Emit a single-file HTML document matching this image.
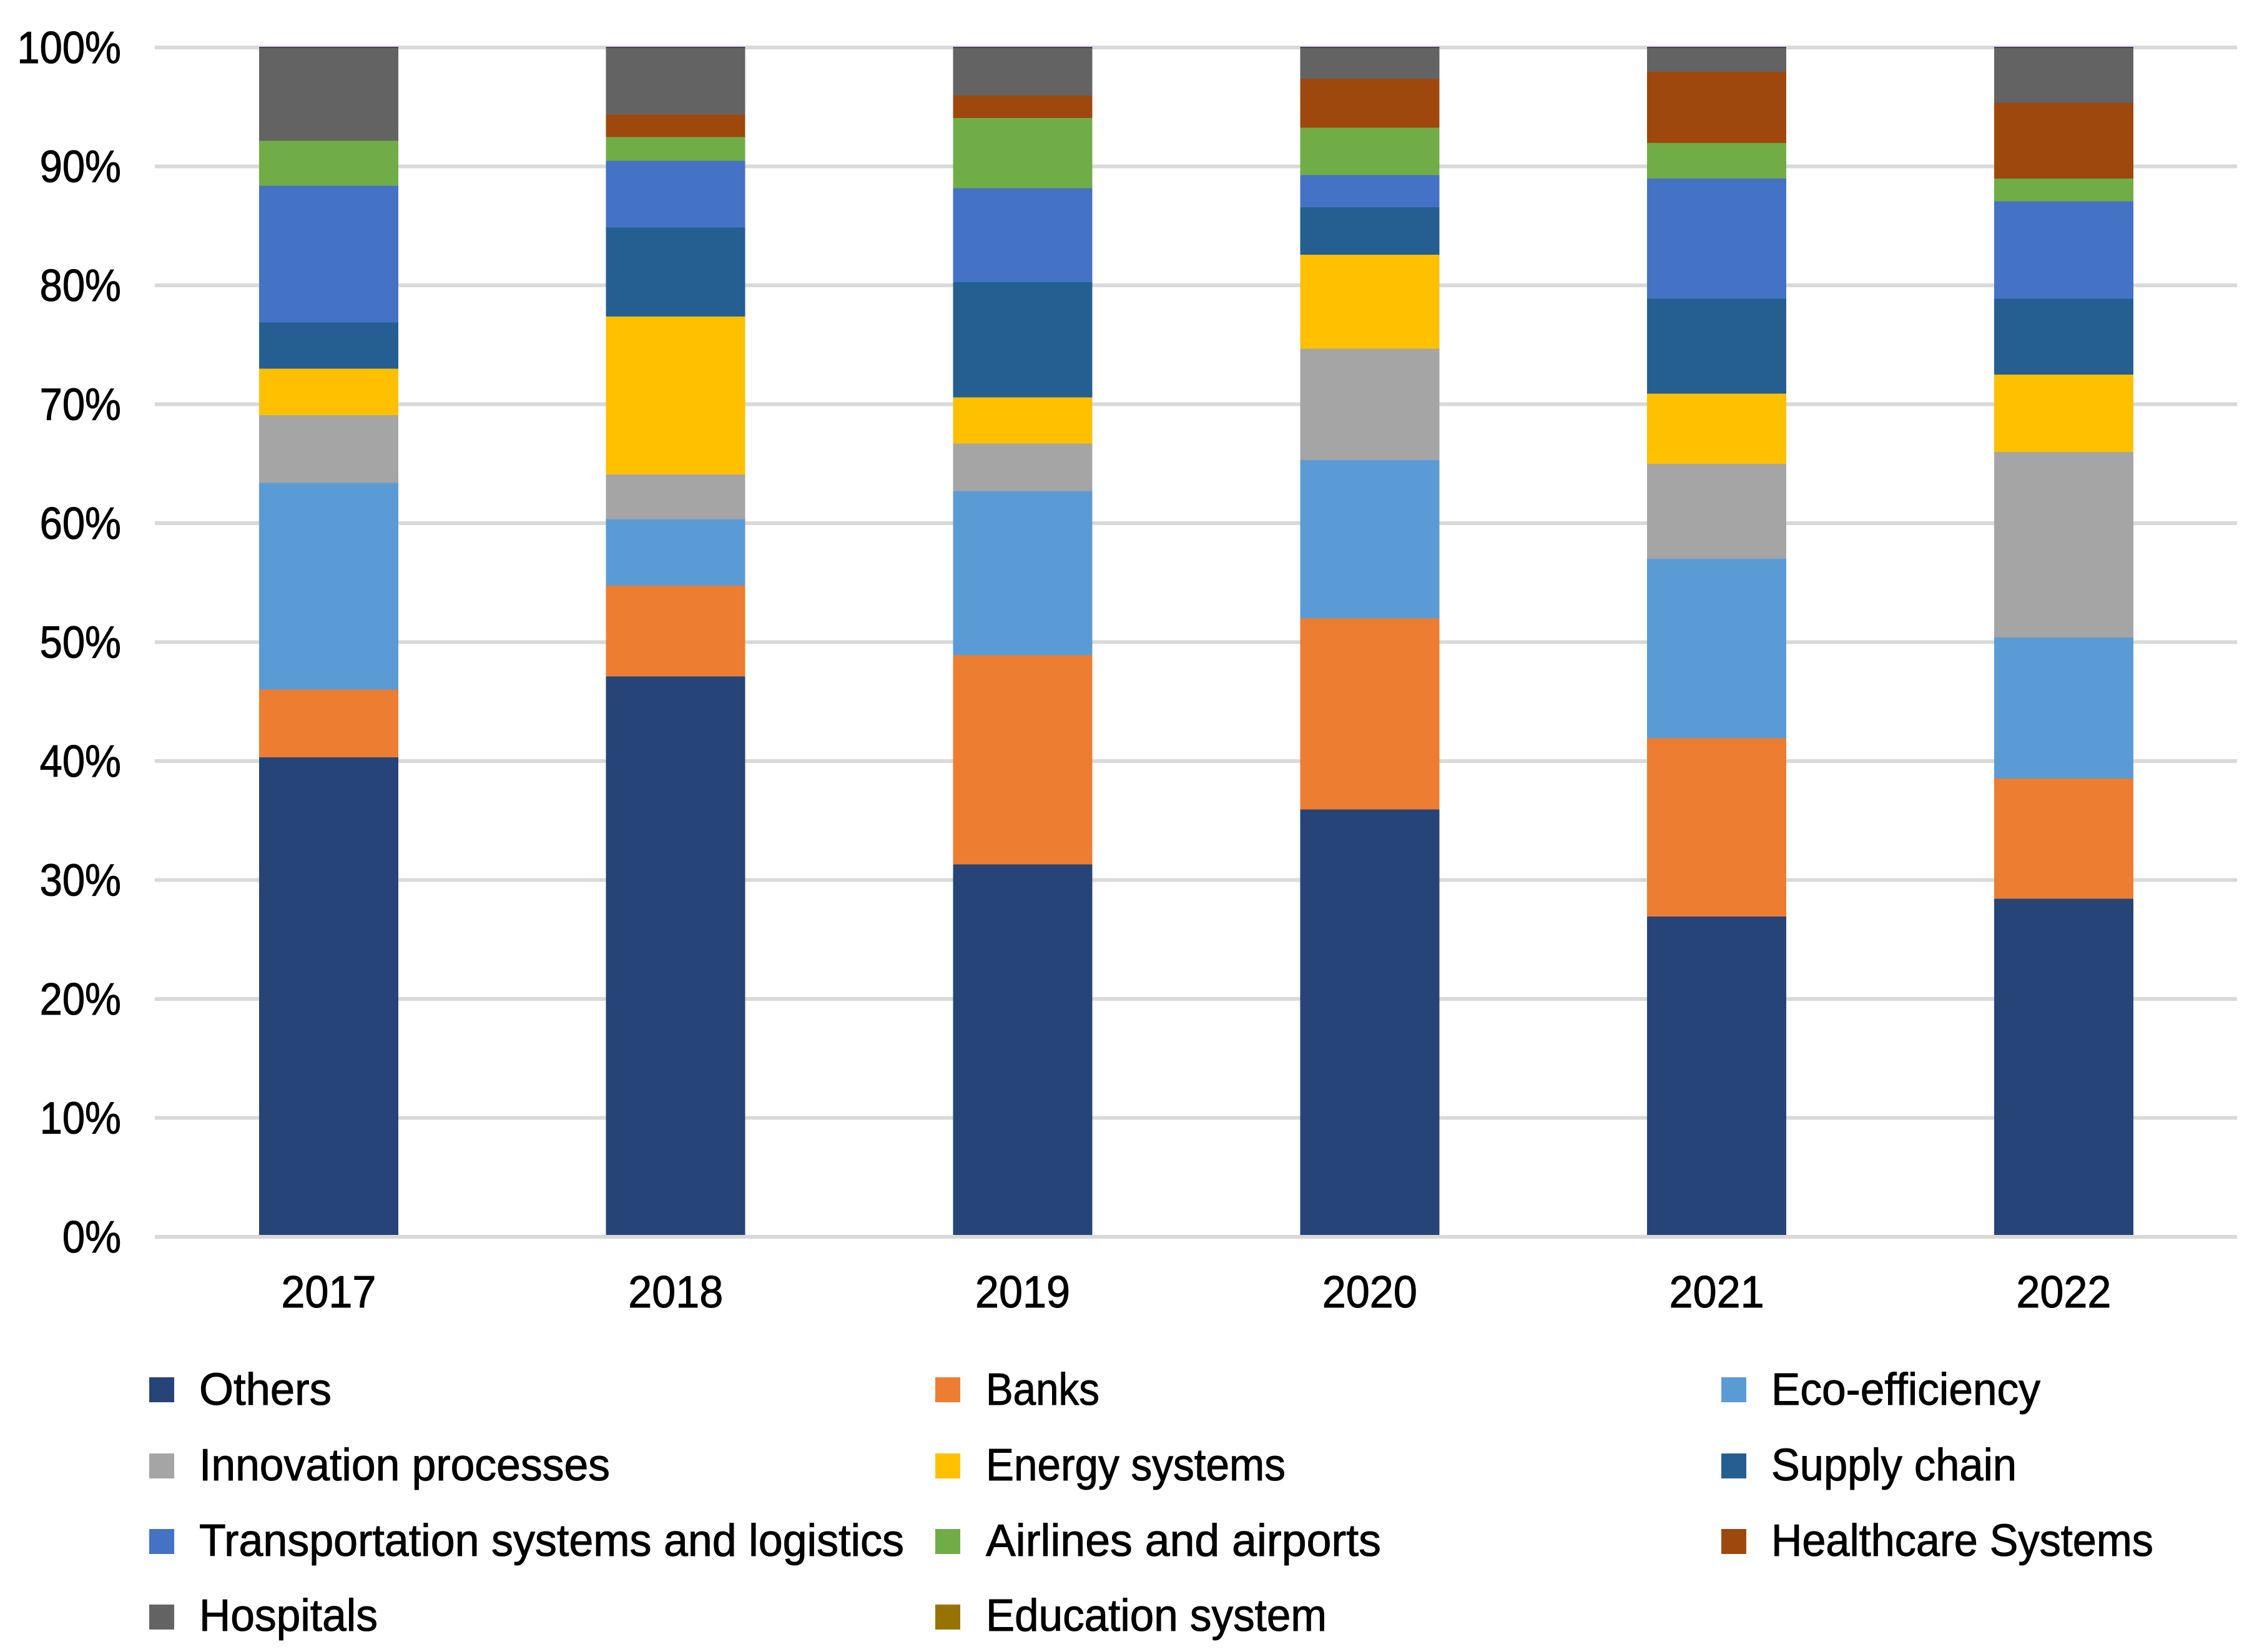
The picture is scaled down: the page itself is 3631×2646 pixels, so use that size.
<!DOCTYPE html>
<html lang="en">
<head>
<meta charset="utf-8">
<title>Stacked share chart 2017-2022</title>
<style>
  html, body { margin: 0; padding: 0; background: #ffffff; }
  svg { display: block; }
  text { font-family: "Liberation Sans", sans-serif; font-size: 72px; fill: #000000; stroke: #000000; stroke-width: 1px; }
</style>
</head>
<body>
<svg id="chart" xmlns="http://www.w3.org/2000/svg" width="3631" height="2646" viewBox="0 0 3631 2646">
  <rect x="0" y="0" width="3631" height="2646" fill="#ffffff"/>
  <g id="grid"></g>
  <g id="yticks"></g>
  <g id="bars"></g>
  <g id="xticks"></g>
  <g>
    <g><rect x="239" y="2206" width="40" height="40" fill="#264478"/><text x="319" y="2250" textLength="212" lengthAdjust="spacingAndGlyphs">Others</text></g>
    <g><rect x="239" y="2328" width="40" height="40" fill="#A5A5A5"/><text x="319" y="2371" textLength="658" lengthAdjust="spacingAndGlyphs">Innovation processes</text></g>
    <g><rect x="239" y="2449" width="40" height="40" fill="#4472C4"/><text x="319" y="2492" textLength="1129" lengthAdjust="spacingAndGlyphs">Transportation systems and logistics</text></g>
    <g><rect x="239" y="2570" width="40" height="40" fill="#636363"/><text x="319" y="2612" textLength="286" lengthAdjust="spacingAndGlyphs">Hospitals</text></g>
    <g><rect x="1498" y="2206" width="40" height="40" fill="#ED7D31"/><text x="1579" y="2250" textLength="182" lengthAdjust="spacingAndGlyphs">Banks</text></g>
    <g><rect x="1498" y="2328" width="40" height="40" fill="#FFC000"/><text x="1579" y="2371" textLength="480" lengthAdjust="spacingAndGlyphs">Energy systems</text></g>
    <g><rect x="1498" y="2449" width="40" height="40" fill="#70AD47"/><text x="1579" y="2492" textLength="633" lengthAdjust="spacingAndGlyphs">Airlines and airports</text></g>
    <g><rect x="1498" y="2570" width="40" height="40" fill="#997300"/><text x="1579" y="2612" textLength="546" lengthAdjust="spacingAndGlyphs">Education system</text></g>
    <g><rect x="2757" y="2206" width="40" height="40" fill="#5B9BD5"/><text x="2837" y="2250" textLength="431" lengthAdjust="spacingAndGlyphs">Eco-efficiency</text></g>
    <g><rect x="2757" y="2328" width="40" height="40" fill="#255E91"/><text x="2837" y="2371" textLength="393" lengthAdjust="spacingAndGlyphs">Supply chain</text></g>
    <g><rect x="2757" y="2449" width="40" height="40" fill="#9E480E"/><text x="2837" y="2492" textLength="612" lengthAdjust="spacingAndGlyphs">Healthcare Systems</text></g>
  </g>
</svg>
<script>
const years = ["2017", "2018", "2019", "2020", "2021", "2022"];
const yTickValues = [0, 10, 20, 30, 40, 50, 60, 70, 80, 90, 100];

const others         = [40.2, 47.0, 31.2, 35.8, 26.8, 28.3];
const banks          = [5.7, 7.65, 17.6, 16.1, 15.0, 10.1];
const ecoEfficiency  = [17.4, 5.6, 13.8, 13.3, 15.1, 11.9];
const innovation     = [5.7, 3.75, 4.0, 9.4, 8.0, 15.6];
const energy         = [3.9, 13.3, 3.9, 7.9, 5.9, 6.5];
const supplyChain    = [3.9, 7.5, 9.7, 4.0, 8.0, 6.4];
const transportation = [11.5, 5.6, 7.9, 2.7, 10.1, 8.2];
const airlines       = [3.8, 2.0, 5.9, 4.0, 3.0, 1.9];
const healthcare     = [0, 1.9, 1.9, 4.1, 6.0, 6.4];
const hospitals      = [7.8, 5.6, 4.0, 2.6, 2.0, 4.6];
const education      = [0, 0, 0, 0, 0, 0];
const unlisted       = [0.1, 0.1, 0.1, 0.1, 0.1, 0.1];

const seriesValues = [others, banks, ecoEfficiency, innovation, energy, supplyChain, transportation, airlines, healthcare, hospitals, education, unlisted];
const seriesNames = ["others", "banks", "eco-efficiency", "innovation-processes", "energy-systems", "supply-chain", "transportation", "airlines-and-airports", "healthcare-systems", "hospitals", "education-system", "unlisted-series"];
const seriesColors = ["#264478", "#ED7D31", "#5B9BD5", "#A5A5A5", "#FFC000", "#255E91", "#4472C4", "#70AD47", "#9E480E", "#636363", "#997300", "#4E3A6B"];

const SVG_NS = "http://www.w3.org/2000/svg";
const plotLeft = 248.5;
const plotRight = 3583.3;
const gridLeft = 248;
const gridRight = 3583;
const gridTop = 76;
const gridBottom = 1981;
const barTop = 75;
const barBottom = 1978;
const barWidth = 223;
const gridThickness = 6;
const textSqueeze = 0.905;
const yearSqueeze = 0.95;

function yGrid(v) { return gridBottom - (gridBottom - gridTop) * v / 100; }
function yBar(v) { return barBottom - (barBottom - barTop) * v / 100; }
function xCenter(i) { return plotLeft + (plotRight - plotLeft) * (i + 0.5) / years.length; }

const gridGroup = document.getElementById("grid");
const yTickGroup = document.getElementById("yticks");
const barGroup = document.getElementById("bars");
const xTickGroup = document.getElementById("xticks");

yTickValues.forEach(function (v) {
  const line = document.createElementNS(SVG_NS, "rect");
  
  
  line.setAttribute("x", gridLeft);
  line.setAttribute("y", yGrid(v) - gridThickness / 2);
  line.setAttribute("width", gridRight - gridLeft);
  line.setAttribute("height", gridThickness);
  line.setAttribute("fill", "#D9D9D9");
  gridGroup.appendChild(line);

  const label = document.createElementNS(SVG_NS, "text");
  
  
  label.setAttribute("text-anchor", "end");
  label.setAttribute("transform", "translate(194," + (yGrid(v) + 25) + ") scale(" + textSqueeze + ",1)");
  label.textContent = v + "%";
  yTickGroup.appendChild(label);
});

years.forEach(function (year, i) {
  const total = seriesValues.reduce(function (sum, s) { return sum + s[i]; }, 0);
  let cumulative = 0;
  seriesValues.forEach(function (s, k) {
    const start = cumulative;
    cumulative += s[i] / total * 100;
    const seg = document.createElementNS(SVG_NS, "rect");
    
    
    seg.setAttribute("x", xCenter(i) - barWidth / 2);
    seg.setAttribute("y", yBar(cumulative));
    seg.setAttribute("width", barWidth);
    seg.setAttribute("height", yBar(start) - yBar(cumulative));
    seg.setAttribute("fill", seriesColors[k]);
    seg.setAttribute("shape-rendering", "crispEdges");
    barGroup.appendChild(seg);
  });

  const label = document.createElementNS(SVG_NS, "text");
  
  
  label.setAttribute("text-anchor", "middle");
  label.setAttribute("transform", "translate(" + xCenter(i) + ",2094) scale(" + yearSqueeze + ",1)");
  label.textContent = year;
  xTickGroup.appendChild(label);
});
</script>
</body>
</html>
